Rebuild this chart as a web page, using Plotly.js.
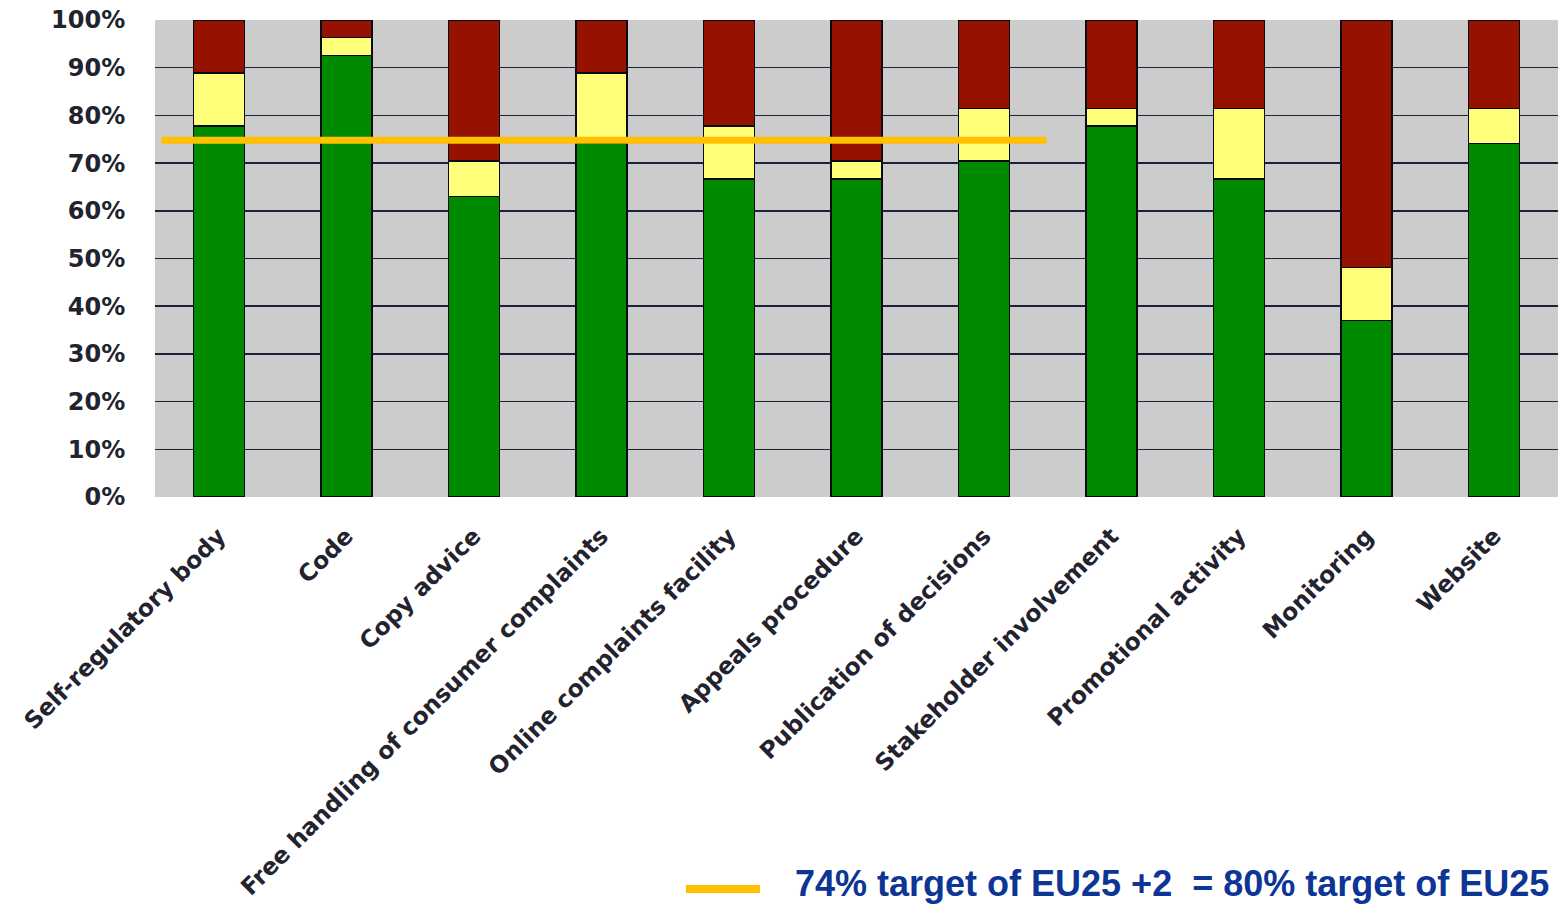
<!DOCTYPE html>
<html>
<head>
<meta charset="utf-8">
<script src="https://cdn.plot.ly/plotly-3.0.1.min.js"></script>
<style>
html,body{margin:0;padding:0;background:#fff;}
#chart{width:1562px;height:906px;}
</style>
</head>
<body>
<div id="chart"></div>
<script>
const categories = ["Self-regulatory body","Code","Copy advice","Free handling of consumer complaints","Online complaints facility","Appeals procedure","Publication of decisions","Stakeholder involvement","Promotional activity","Monitoring","Website"];
const greenValues  = [77.8, 92.6, 63.0, 74.1, 66.7, 66.7, 70.4, 77.8, 66.7, 37.0, 74.1];
const yellowValues = [11.1,  3.7,  7.4, 14.8, 11.1,  3.7, 11.1,  3.7, 14.8, 11.1,  7.4];
const redValues    = [11.1,  3.7, 29.6, 11.1, 22.2, 29.6, 18.5, 18.5, 18.5, 51.9, 18.5];
const targetValue = 74.8;
const targetLabel = "74% target of EU25 +2  = 80% target of EU25";
const yTickVals = [0,10,20,30,40,50,60,70,80,90,100];
const yTickText = ["0%","10%","20%","30%","40%","50%","60%","70%","80%","90%","100%"];

const barLine = {color:"#0a0a14", width:1.5};
const traces = [
  {type:"bar", x:categories, y:greenValues, marker:{color:"#008a00", line:barLine}, width:0.4, showlegend:false, hoverinfo:"skip"},
  {type:"bar", x:categories, y:yellowValues, marker:{color:"#ffff7a", line:barLine}, width:0.4, showlegend:false, hoverinfo:"skip"},
  {type:"bar", x:categories, y:redValues, marker:{color:"#961200", line:barLine}, width:0.4, showlegend:false, hoverinfo:"skip"}
];

const layout = {
  width:1562, height:906,
  margin:{l:155, r:4, t:20, b:409},
  paper_bgcolor:"#ffffff",
  plot_bgcolor:"#cccccc",
  barmode:"stack",
  bargap:0.6,
  xaxis:{
    type:"category",
    tickangle:-45,
    tickfont:{family:"DejaVu Sans", size:23.5, color:"#23232f", weight:"bold"},
    showgrid:false, zeroline:false, showline:false,
    ticks:"outside", ticklen:15, tickcolor:"rgba(0,0,0,0)",
    range:[-0.5, 10.5]
  },
  yaxis:{
    range:[0,100],
    tickvals:yTickVals, ticktext:yTickText,
    tickfont:{family:"DejaVu Sans", size:24, color:"#23232f", weight:"bold"},
    showgrid:true, gridcolor:"#1c2238", gridwidth:1.5,
    zeroline:false, showline:false,
    ticks:"outside", ticklen:24, tickcolor:"rgba(0,0,0,0)"
  },
  shapes:[
    {type:"line", xref:"x", yref:"y", x0:-0.45, x1:6.49, y0:targetValue, y1:targetValue,
     line:{color:"#ffc000", width:7}},
    {type:"line", xref:"paper", yref:"paper", x0:(686-155)/1403, x1:(760-155)/1403, y0:-(889-497)/477, y1:-(889-497)/477,
     line:{color:"#ffc000", width:8}}
  ],
  annotations:[
    {xref:"paper", yref:"paper", x:(793-155)/1403, y:-(883-497)/477, xanchor:"left", yanchor:"middle",
     text:targetLabel, showarrow:false,
     font:{family:"Liberation Sans", size:36, color:"#0c3596", weight:"bold"}}
  ]
};

Plotly.newPlot("chart", traces, layout, {displayModeBar:false, staticPlot:true});
</script>
</body>
</html>
